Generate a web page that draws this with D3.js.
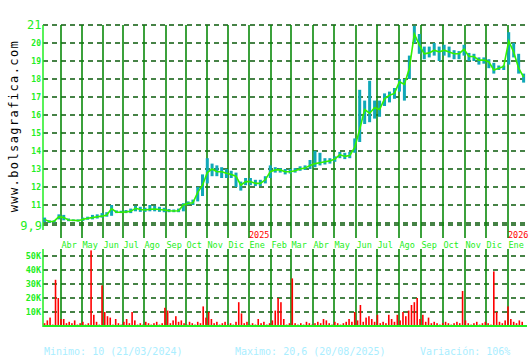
<!DOCTYPE html>
<html>
<head>
<meta charset="utf-8">
<script src="https://cdn.jsdelivr.net/npm/d3@7"></script>
<style>
  body { margin: 0; background: #fff; }
  text { font-family: "DejaVu Sans Mono", monospace; }
</style>
</head>
<body>
<div class="container"></div>
<script>
// weekly quotes, first week starts 08/03/2024
var startDate = new Date(2024, 2, 8);
var closeVals = [10.2, 10.07, 10.1, 10.35, 10.3, 10.17, 10.15, 10.13, 10.2, 10.26,
  10.3, 10.35, 10.38, 10.44, 10.8, 10.6, 10.6, 10.62, 10.65, 10.82,
  10.75, 10.72, 10.76, 10.78, 10.75, 10.72, 10.68, 10.67, 10.68, 11.0,
  11.1, 11.12, 11.7, 12.1, 12.8, 13.0, 12.85, 12.85, 12.76, 12.7,
  12.6, 12.1, 12.3, 12.3, 12.2, 12.2, 12.4, 12.85, 12.95, 12.95,
  12.85, 12.85, 12.9, 13.0, 13.05, 13.2, 13.3, 13.35, 13.4, 13.45,
  13.55, 13.8, 13.7, 13.75, 14.2, 15.2, 16.3, 16.1, 16.4, 16.3,
  16.9, 17.1, 17.2, 17.85, 17.7, 18.6, 20.5, 19.9, 19.4, 19.45,
  19.6, 19.5, 19.6, 19.5, 19.4, 19.4, 19.65, 19.25, 19.25, 19.05,
  19.05, 18.95, 18.5, 18.6, 18.7, 20.1, 19.5, 18.6, 18.1];
var highVals = [10.3, 10.15, 10.15, 10.48, 10.45, 10.25, 10.2, 10.2, 10.3, 10.35,
  10.45, 10.48, 10.55, 10.6, 11.0, 10.7, 10.68, 10.72, 10.8, 10.95,
  10.9, 10.85, 11.0, 10.95, 10.9, 10.85, 10.78, 10.75, 10.8, 11.1,
  11.2, 11.3, 12.0, 12.7, 13.6, 13.3, 13.2, 13.1, 13.0, 12.9,
  12.8, 12.3, 12.5, 12.5, 12.4, 12.4, 12.6, 13.2, 13.1, 13.05,
  13.0, 13.0, 13.05, 13.15, 13.2, 13.5, 14.0, 13.9, 13.6, 13.6,
  13.7, 13.95, 13.9, 13.95, 14.7, 17.4, 16.8, 17.9, 16.8, 16.8,
  17.2, 17.3, 17.5, 18.0, 18.0, 19.3, 20.95, 20.5, 19.8, 19.8,
  20.0, 19.8, 19.9, 19.8, 19.6, 19.55, 19.9, 19.45, 19.4, 19.2,
  19.2, 19.1, 18.9, 18.75, 18.75, 20.6, 20.0, 19.4, 18.3];
var lowVals = [10.05, 10.0, 10.03, 10.2, 10.15, 10.1, 10.1, 10.08, 10.12, 10.18,
  10.2, 10.25, 10.3, 10.35, 10.4, 10.55, 10.55, 10.55, 10.55, 10.65,
  10.62, 10.62, 10.65, 10.65, 10.62, 10.6, 10.6, 10.6, 10.6, 10.65,
  11.0, 11.0, 11.2, 11.5, 12.2, 12.6, 12.6, 12.5, 12.5, 12.5,
  12.0, 11.8, 12.1, 12.1, 12.05, 12.05, 12.2, 12.5, 12.8, 12.8,
  12.7, 12.75, 12.8, 12.9, 12.95, 13.0, 13.1, 13.2, 13.25, 13.3,
  13.4, 13.6, 13.55, 13.6, 13.9, 14.5, 15.5, 15.6, 15.8, 15.9,
  16.5, 16.7, 16.9, 17.3, 16.8, 18.0, 20.0, 19.4, 19.1, 19.2,
  19.3, 19.0, 19.3, 19.2, 19.1, 19.1, 19.3, 19.0, 19.0, 18.8,
  18.85, 18.6, 18.3, 18.5, 18.5, 18.8, 19.2, 18.3, 17.8];

// volume (thousands), one value every 4 days from startDate
var volumeK = [2, 4, 6, 1, 33, 20, 5, 5, 2, 3,
  2, 4, 1, 2, 3, 1, 2, 54, 8, 3,
  1, 29, 10, 7, 6, 1, 5, 2, 1, 3,
  5, 2, 10, 4, 1, 2, 1, 3, 2, 1,
  2, 3, 1, 2, 13, 11, 2, 4, 7, 3,
  4, 2, 1, 3, 2, 1, 3, 2, 14, 6,
  10, 5, 2, 3, 1, 2, 3, 1, 2, 1,
  3, 17, 9, 2, 3, 1, 2, 1, 5, 2,
  3, 1, 2, 4, 11, 20, 17, 5, 1, 2,
  34, 2, 1, 2, 1, 3, 2, 1, 2, 3,
  2, 5, 4, 2, 1, 3, 2, 1, 2, 3,
  5, 3, 10, 4, 15, 3, 6, 7, 5, 3,
  8, 2, 3, 2, 8, 5, 3, 8, 4, 10,
  7, 11, 15, 17, 20, 5, 8, 3, 6, 2,
  3, 2, 1, 2, 3, 2, 1, 2, 3, 2,
  25, 4, 2, 1, 2, 3, 1, 2, 3, 2,
  1, 39, 10, 3, 2, 4, 14, 5, 3, 2,
  4, 3];

var monthNames = ["Ene", "Feb", "Mar", "Abr", "May", "Jun", "Jul", "Ago", "Sep", "Oct", "Nov", "Dic"];
var priceTicks = [11, 12, 13, 14, 15, 16, 17, 18, 19, 20];
var priceGrid = [9.9, 10, 11, 12, 13, 14, 15, 16, 17, 18, 19, 20, 21];
var volTicks = [10000, 20000, 30000, 40000, 50000];
var statTexts = ["Minimo: 10 (21/03/2024)", "Maximo: 20,6 (20/08/2025)", "Variación: 106%"];

var width = 530, height = 360;
var left = 43, right = 527;

var svg = d3.select(".container").append("svg")
    .attr("width", width)
    .attr("height", height);

var x = d3.scaleTime()
    .domain([new Date(2024, 3, 1), new Date(2025, 0, 1), new Date(2026, 0, 1)])
    .range([61, 249, 508]);
var y = d3.scaleLinear().domain([9.9, 21]).range([224.8, 25]);
var yv = d3.scaleLinear().domain([0, 50000]).range([326, 256]);

var quotes = closeVals.map(function(c, i) {
  return {date: d3.timeDay.offset(startDate, 7 * i), close: c, high: highVals[i], low: lowVals[i]};
});
var vols = volumeK.map(function(v, i) {
  return {date: d3.timeDay.offset(startDate, 4 * i), vol: v * 1000};
});
var months = d3.timeMonth.range(new Date(2024, 3, 1), new Date(2026, 1, 1));

// horizontal dashed grid
svg.selectAll(".hgrid").data(priceGrid).enter().append("line")
  .attr("x1", left).attr("x2", right)
  .attr("y1", function(d) { return Math.round(y(d)); })
  .attr("y2", function(d) { return Math.round(y(d)); })
  .attr("stroke", "#0a5a0a").attr("stroke-width", 1.6).attr("stroke-dasharray", "5,4");
svg.selectAll(".vhgrid").data(volTicks).enter().append("line")
  .attr("x1", left).attr("x2", right)
  .attr("y1", function(d) { return Math.round(yv(d)); })
  .attr("y2", function(d) { return Math.round(yv(d)); })
  .attr("stroke", "#0a5a0a").attr("stroke-width", 1.6).attr("stroke-dasharray", "5,4");

// vertical month lines
svg.selectAll(".vgrid").data(months).enter().append("line")
  .attr("x1", function(d) { return Math.round(x(d)); })
  .attr("x2", function(d) { return Math.round(x(d)); })
  .attr("y1", 25).attr("y2", 238)
  .attr("stroke", "#0b8a0b").attr("stroke-width", 1.6);
svg.selectAll(".vgrid2").data(months).enter().append("line")
  .attr("x1", function(d) { return Math.round(x(d)); })
  .attr("x2", function(d) { return Math.round(x(d)); })
  .attr("y1", 249).attr("y2", 326)
  .attr("stroke", "#0b8a0b").attr("stroke-width", 1.6);

// axes lines
svg.append("line").attr("x1", left).attr("x2", left).attr("y1", 25).attr("y2", 230)
  .attr("stroke", "#22ee22").attr("stroke-width", 1.5);
svg.append("line").attr("x1", left).attr("x2", left).attr("y1", 249).attr("y2", 327)
  .attr("stroke", "#22ee22").attr("stroke-width", 1.5);

// high-low bars
svg.selectAll(".hl").data(quotes).enter().append("rect")
  .attr("x", function(d) { return x(d.date) - 1.5; })
  .attr("width", 3)
  .attr("y", function(d) { return y(d.high); })
  .attr("height", function(d) { return y(d.low) - y(d.high); })
  .attr("fill", "#10a8b8");

// close line
var line = d3.line()
  .x(function(d) { return x(d.date); })
  .y(function(d) { return y(d.close); });
svg.append("path").datum(quotes)
  .attr("d", line)
  .attr("fill", "none")
  .attr("stroke", "#33f000")
  .attr("stroke-width", 1.6);

// volume bars
svg.selectAll(".vol").data(vols).enter().append("rect")
  .attr("x", function(d) { return x(d.date) - 0.8; })
  .attr("width", 1.6)
  .attr("y", function(d) { return yv(d.vol); })
  .attr("height", function(d) { return yv(0) - yv(d.vol); })
  .attr("fill", "#ff0000");

svg.append("line").attr("x1", left).attr("x2", right).attr("y1", 326).attr("y2", 326)
  .attr("stroke", "#22ee22").attr("stroke-width", 2);

// price labels
svg.selectAll(".plab").data(priceTicks).enter().append("text")
  .attr("x", 41).attr("y", function(d) { return y(d) + 3; })
  .attr("text-anchor", "end")
  .style("font-size", "8px").style("font-weight", "bold")
  .attr("fill", "#22ee22")
  .text(function(d) { return d; });
svg.append("text").attr("x", 41.5).attr("y", y(21) + 4)
  .attr("text-anchor", "end")
  .style("font-size", "12px").attr("fill", "#22ee22")
  .text("21");
svg.append("text").attr("x", 42).attr("y", y(9.9) + 5)
  .attr("text-anchor", "end")
  .style("font-size", "12px").attr("fill", "#22ee22")
  .text("9,9");

// volume labels
svg.selectAll(".vlab").data(volTicks).enter().append("text")
  .attr("x", 41).attr("y", function(d) { return yv(d) + 3; })
  .attr("text-anchor", "end")
  .style("font-size", "8.5px").style("font-weight", "bold")
  .attr("fill", "#22ee22")
  .text(function(d) { return (d / 1000) + "K"; });

// month labels
svg.selectAll(".mlab").data(months).enter().append("text")
  .attr("x", function(d) { return Math.round(x(d)) + 0.5; })
  .attr("y", 248)
  .style("font-size", "8.5px")
  .attr("fill", "#22ee22")
  .text(function(d) { return monthNames[d.getMonth()]; });

// year labels
svg.selectAll(".ylab").data(months.filter(function(d) { return d.getMonth() === 0; }))
  .enter().append("text")
  .attr("x", function(d) { return Math.round(x(d)); })
  .attr("y", 238)
  .style("font-size", "8.5px")
  .attr("fill", "#ff0000")
  .text(function(d) { return d.getFullYear(); });

// site name
svg.append("text")
  .attr("transform", "translate(18,126) rotate(-90)")
  .attr("text-anchor", "middle")
  .style("font-size", "12px")
  .style("letter-spacing", "1.4px")
  .attr("fill", "#000")
  .text("www.bolsagrafica.com");

// bottom stats
svg.selectAll(".stat").data(statTexts).enter().append("text")
  .attr("x", function(d, i) { return [44, 235, 420][i]; })
  .attr("y", 355)
  .style("font-size", "10px")
  .attr("fill", "#aaeeff")
  .text(function(d) { return d; });
</script>
</body>
</html>
